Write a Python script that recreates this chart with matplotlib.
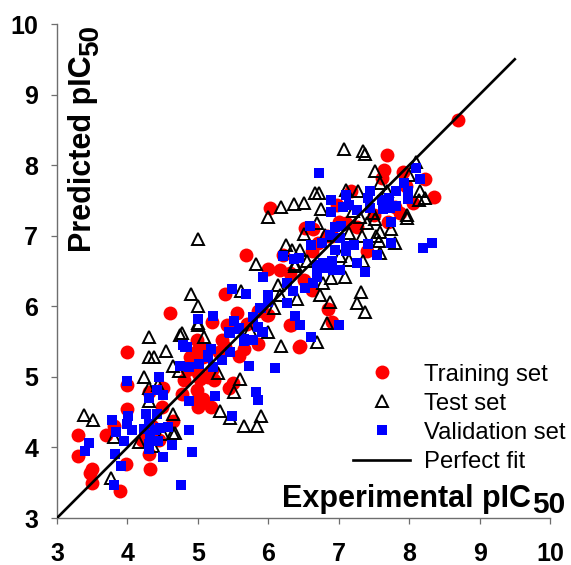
import matplotlib
matplotlib.use("Agg")
import matplotlib.pyplot as plt

plt.rcParams['font.family'] = ['Liberation Sans', 'DejaVu Sans']

train_x = [3.30,3.30,3.49,3.47,3.50,3.90,3.98,4.32,3.69,3.81,4.0,4.0,4.0,4.60,4.30,4.49,4.30,4.65,4.51,4.77,4.99,5.0,5.0,5.08,5.18,5.23,5.44,5.5,4.80,4.89,4.99,4.99,5.03,5.08,5.2,5.41,5.55,5.34,5.39,5.58,5.65,5.85,5.70,5.98,6.31,6.43,
           8.70,7.69,7.65,7.91,8.23,8.36,6.02,5.69,6.0,6.17,6.31,5.38,6.0,5.86,6.85,6.90,6.32,6.45,6.50,6.62,6.64,6.52,6.62,6.21,7.40,7.26,7.11,6.97,7.18,7.87,8.06,7.61,6.83,
           4.95,5.10,5.20,5.30,5.00,5.15,4.85,6.70,7.00,6.90,7.50,7.80,7.70,7.95,4.20,4.35,4.45]
train_y = [4.18,3.88,3.70,3.64,3.49,3.38,3.77,3.70,4.18,4.31,4.54,4.89,5.35,5.91,3.91,4.57,4.78,4.38,4.84,4.75,4.81,4.69,4.57,4.69,4.57,4.96,4.84,4.92,4.95,5.28,5.52,5.37,4.97,5.28,5.78,5.73,5.90,5.52,5.42,5.30,5.40,5.47,5.75,5.87,5.73,5.42,
           8.645,8.14,7.93,7.90,7.80,7.55,7.39,6.72,6.53,6.51,6.47,6.17,5.88,5.93,5.96,5.78,5.74,5.44,6.37,6.23,7.09,7.11,6.78,6.73,6.78,7.13,7.18,7.44,7.63,7.32,7.46,7.82,6.99,
           5.20,5.40,5.10,5.35,5.05,5.00,5.10,6.90,7.20,7.00,7.30,7.40,7.20,7.70,4.10,4.30,4.10]

test_x = [7.07,7.34,7.38,7.51,8.10,8.0,7.59,6.67,6.72,7.10,7.28,7.68,8.16,8.23,8.14,6.51,6.36,6.18,6.0,6.75,7.2,7.30,7.49,7.52,7.97,7.97,7.40,6.69,6.50,7.74,7.59,7.53,7.33,7.14,6.81,7.57,7.80,5.0,6.25,6.33,6.45,7.59,5.82,6.38,6.38,6.55,7.02,7.14,7.35,7.09,6.89,6.78,6.14,5.61,4.90,5.0,7.31,6.74,6.17,6.41,6.88,7.26,7.38,6.08,6.83,5.0,5.0,5.74,5.99,5.09,4.77,6.18,6.69,
          3.39,3.51,3.76,3.81,4.17,4.30,4.30,4.38,4.55,4.74,4.65,4.73,4.24,4.31,4.44,4.30,4.64,4.65,4.68,4.51,4.37,5.29,5.60,5.52,5.31,5.46,5.89,5.66,5.84]
test_y = [8.23,8.20,8.16,7.91,8.05,7.86,7.75,7.61,7.61,7.65,7.64,7.64,7.63,7.53,7.50,7.47,7.45,7.40,7.26,7.38,7.35,7.26,7.32,7.23,7.29,7.25,7.18,7.18,7.03,7.09,7.05,6.99,6.99,7.04,7.01,6.92,6.90,6.95,6.87,6.80,6.80,6.75,6.60,6.60,6.57,6.64,6.71,6.66,6.64,6.41,6.40,6.33,6.30,6.22,6.18,6.0,6.20,6.16,6.16,6.10,6.06,6.05,5.92,5.97,5.76,5.76,5.73,5.66,5.63,5.57,5.62,5.44,5.49,
          4.46,4.39,3.56,4.15,4.07,5.56,5.28,5.28,5.36,5.60,5.15,5.08,5.0,4.84,4.88,4.66,4.48,4.20,4.21,4.19,4.02,5.05,4.97,4.78,4.52,4.42,4.45,4.30,4.30]

valid_x = [3.45,3.40,3.82,3.91,3.81,3.78,3.84,3.95,4.0,4.45,4.42,4.50,4.30,4.01,4.0,4.06,4.27,4.42,4.30,4.23,4.39,4.58,4.46,4.32,4.44,4.63,4.30,4.30,4.51,4.91,4.87,4.76,4.87,5.24,5.49,6.09,5.73,5.85,5.82,4.75,4.87,5.01,5.22,5.34,5.46,5.15,5.18,4.79,4.84,5.0,5.22,5.52,5.45,5.58,5.79,5.89,5.86,5.92,5.66,5.78,6.27,6.38,6.0,
           6.72,8.10,8.15,7.92,7.82,7.99,7.99,7.44,7.42,7.10,6.89,6.89,7.06,7.14,7.26,7.44,7.61,7.71,7.63,7.73,7.81,7.74,8.32,8.20,6.59,6.95,7.03,6.88,7.02,6.60,6.76,6.95,7.11,7.21,7.11,7.42,7.74,7.55,6.21,6.36,6.44,7.26,7.38,6.69,6.78,6.90,6.69,6.83,7.02,6.92,5.92,6.69,6.64,6.52,6.26,6.35,5.48,5.69,6.0,6.0,6.26,5.88,6.45,7.0,6.60,5.44,5.58,5.91,5.65,4.82,5.18,5.15]
valid_y = [4.06,3.95,3.91,3.73,3.47,4.39,4.22,4.09,4.94,5.0,4.82,4.74,4.70,4.45,4.33,4.24,4.47,4.48,4.33,4.26,4.24,4.29,4.28,4.17,4.09,4.04,4.05,3.98,3.87,3.94,4.24,3.47,4.66,4.73,4.44,5.12,5.16,4.67,4.79,5.16,5.14,5.18,5.14,5.24,5.35,5.28,5.39,5.45,5.42,5.82,5.86,5.79,5.62,5.68,5.85,5.97,5.71,5.64,5.51,5.52,6.04,5.86,6.06,
           7.89,7.96,7.81,7.75,7.64,7.63,7.52,7.64,7.53,7.58,7.50,7.34,7.41,7.44,7.37,7.39,7.51,7.53,7.38,7.39,7.42,7.20,6.90,6.83,7.14,7.12,7.14,7.01,6.97,6.87,6.90,6.80,6.86,6.87,6.78,6.88,6.90,6.72,6.71,6.67,6.68,6.61,6.48,6.59,6.61,6.64,6.52,6.54,6.52,6.52,6.42,6.42,6.33,6.26,6.33,6.21,6.25,6.17,6.16,6.09,6.05,5.97,5.74,5.73,5.57,5.63,5.69,5.64,5.53,5.43,5.40,5.31]

fit_x = [3, 9.5]
fit_y = [3, 9.5]
ticks = [3, 4, 5, 6, 7, 8, 9, 10]
GREY = '#6e6e6e'

W, H = 571, 565
fig = plt.figure(figsize=(W/100, H/100), dpi=100)
ax = fig.add_axes([57/W, 1-518/H, (550-57)/W, (518-24)/H])

ax.plot(train_x, train_y, 'o', color='#ff0000', ms=10, mew=0, ls='none', label='Training set', zorder=2)
ax.plot(test_x, test_y, '^', mfc='none', mec='black', ms=8.8, mew=1.4, ls='none', label='Test set', zorder=3)
ax.plot(valid_x, valid_y, 's', color='#0000ff', ms=7.8, mew=0, ls='none', label='Validation set', zorder=4)
ax.plot(fit_x, fit_y, '-', color='black', lw=1.9, label='Perfect fit', zorder=5)

ax.set_xlim(3, 10)
ax.set_ylim(3, 10)
ax.set_xticks(ticks)
ax.set_yticks(ticks)
ax.spines['top'].set_visible(False)
ax.spines['right'].set_visible(False)
for s in ('left', 'bottom'):
    ax.spines[s].set_color(GREY)
    ax.spines[s].set_linewidth(1.0)
ax.tick_params(axis='both', length=4.5, width=0.9, color=GREY, labelsize=18)
ax.tick_params(axis='x', pad=13)
ax.tick_params(axis='y', pad=9)
for lab in ax.get_xticklabels() + ax.get_yticklabels():
    lab.set_fontweight('bold')

ax.legend(loc='lower right', bbox_to_anchor=(566/W, 1-473/H), bbox_transform=fig.transFigure,
          frameon=False, fontsize=17.2, handlelength=2.4, handletextpad=0.6, labelspacing=0.3,
          borderpad=0, borderaxespad=0, numpoints=1)

fig.text(282/W, 1-507/H, 'Experimental pIC', fontsize=22, fontweight='bold', ha='left', va='baseline')
fig.text(532/W, 1-513/H, '50', fontsize=21.5, fontweight='bold', ha='left', va='baseline')
fig.text(91/W, 1-252/H, 'Predicted pIC', fontsize=22, fontweight='bold', rotation=90, ha='left', va='baseline', rotation_mode='anchor')
fig.text(98/W, 1-56/H, '50', fontsize=20, fontweight='bold', rotation=90, ha='left', va='baseline', rotation_mode='anchor')

fig.savefig('out.png', dpi=100)
